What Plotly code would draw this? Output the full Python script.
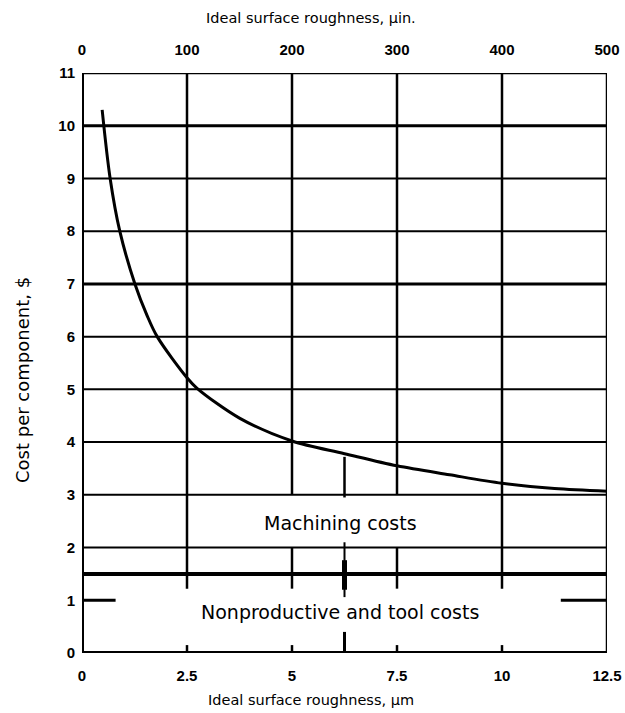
import plotly.graph_objects as go

# Total cost per component vs. ideal surface roughness
roughness_um = [0.48, 0.67, 0.9, 1.26, 1.55, 1.79, 2.5, 2.74, 3.76, 5.0, 6.25, 7.5, 8.75, 10.0, 11.25, 12.5]
cost_usd = [10.3, 9.0, 8.0, 7.0, 6.4, 6.0, 5.22, 5.02, 4.45, 4.02, 3.78, 3.55, 3.38, 3.22, 3.12, 3.07]

nonproductive_level = 1.5
bottom_ticks = [0, 2.5, 5, 7.5, 10, 12.5]
bottom_labels = ["0", "2.5", "5", "7.5", "10", "12.5"]
top_ticks = [0, 100, 200, 300, 400, 500]
y_ticks = list(range(0, 12))

h_grid = [2, 3, 4, 5, 6, 7, 8, 9, 10]
h_grid_heavy = [7, 10]
v_grid = [2.5, 5, 7.5, 10]
v_grid_split = [5, 7.5]   # interrupted around the "Machining costs" label
marker_x = 6.25

TICK_FONT = "Liberation Sans, Arial, sans-serif"
TEXT_FONT = "DejaVu Sans, Verdana, sans-serif"
INK = "black"

fig = go.Figure()

shapes = []

def seg(x0, y0, x1, y1, w=2):
    shapes.append(dict(type="line", xref="x", yref="y", x0=x0, y0=y0, x1=x1, y1=y1,
                       line=dict(color=INK, width=w), layer="below"))

# horizontal grid
for v in h_grid:
    seg(0, v, 12.5, v, 3 if v in h_grid_heavy else 2)
# boundary between nonproductive and machining costs
seg(0, nonproductive_level, 12.5, nonproductive_level, 4)
# partial line at 1
seg(0, 1, 0.8, 1, 3)
seg(11.4, 1, 12.5, 1, 3)

# vertical grid
for v in v_grid:
    if v in v_grid_split:
        seg(v, 3, v, 11, 2.5)
        seg(v, 2, v, 1.22, 2.5)
    else:
        seg(v, 1.22, v, 11, 2.5)
    seg(v, 0, v, 0.15, 2.5)

# dimension markers at 6.25 um
seg(marker_x, cost_usd[10] - 0.06, marker_x, 2.95, 2.5)
seg(marker_x, 2.1, marker_x, 1.06, 2)
seg(marker_x, 1.76, marker_x, 1.2, 5)
seg(marker_x, 0.4, marker_x, 0, 3)

# frame
shapes.append(dict(type="rect", xref="x", yref="y", x0=0, y0=0, x1=12.5, y1=11,
                   line=dict(color=INK, width=2.5), layer="below"))
seg(0, 0, 0, 11, 4)
seg(0, 0, 12.5, 0, 4)

fig.add_trace(go.Scatter(x=roughness_um, y=cost_usd, mode="lines",
                         line=dict(color=INK, width=3, shape="spline", smoothing=0.9),
                         hoverinfo="skip", showlegend=False))
# carrier trace for the micro-inch axis
fig.add_trace(go.Scatter(x=top_ticks, y=[None] * len(top_ticks), xaxis="x2",
                         mode="markers", hoverinfo="skip", showlegend=False))

region_font = dict(family=TEXT_FONT, size=19, color=INK)
fig.add_annotation(x=marker_x - 0.1, y=2.47, xref="x", yref="y", text="Machining costs",
                   showarrow=False, font=region_font)
fig.add_annotation(x=marker_x - 0.1, y=0.78, xref="x", yref="y", text="Nonproductive and tool costs",
                   showarrow=False, font=region_font)

# axis titles, positioned in pixels and converted to paper coordinates below
title_font = dict(family=TEXT_FONT, size=14.5, color=INK)
fig.add_annotation(x=311, y=18, xref="paper", yref="paper", text="Ideal surface roughness, μin.",
                   showarrow=False, font=title_font, xanchor="center", yanchor="middle")
fig.add_annotation(x=311, y=700, xref="paper", yref="paper", text="Ideal surface roughness, μm",
                   showarrow=False, font=title_font, xanchor="center", yanchor="middle")
fig.add_annotation(x=22, y=380, xref="paper", yref="paper", text="Cost per component, $",
                   textangle=-90, showarrow=False, xanchor="center", yanchor="middle",
                   font=dict(family=TEXT_FONT, size=18, color=INK))

W, H = 625, 713
L, R, T, B = 82, 18, 73, 60
pw, ph = W - L - R, H - T - B
for ann in fig.layout.annotations:
    if ann.xref == "paper":
        ann.x = (ann.x - L) / pw
        ann.y = (H - B - ann.y) / ph

tick_font = dict(family=TICK_FONT, size=15, color=INK, weight="bold")

fig.update_layout(
    width=W, height=H,
    margin=dict(l=L, r=R, t=T, b=B),
    paper_bgcolor="white", plot_bgcolor="white",
    shapes=shapes,
    xaxis=dict(range=[0, 12.5], tickvals=bottom_ticks, ticktext=bottom_labels,
               showgrid=False, zeroline=False, showline=False, ticks="",
               tickfont=tick_font, ticklabelstandoff=12, automargin=False),
    xaxis2=dict(range=[0, 500], tickvals=top_ticks, overlaying="x", side="top",
                showgrid=False, zeroline=False, showline=False, ticks="",
                tickfont=tick_font, ticklabelstandoff=14, automargin=False),
    yaxis=dict(range=[0, 11], tickvals=y_ticks, showgrid=False, zeroline=False,
               showline=False, ticks="", tickfont=tick_font, ticklabelstandoff=6,
               automargin=False),
)

fig.write_html("out.html")
